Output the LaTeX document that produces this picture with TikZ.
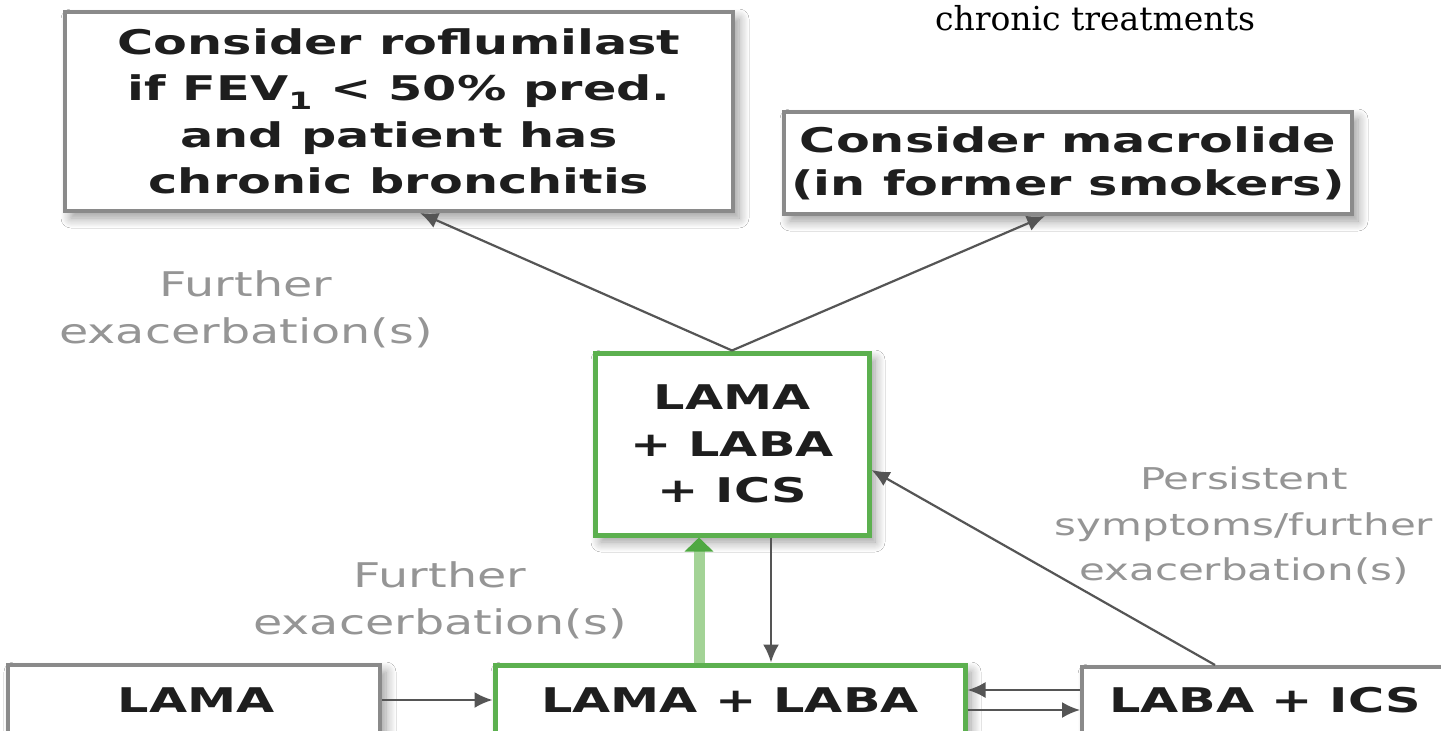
\documentclass[tikz,border=0pt]{standalone}
\usepackage{fontspec}
\usetikzlibrary{arrows.meta,shadows.blur,calc}
\newfontfamily\boxfont{DejaVu Sans Bold}[FakeStretch=1.45]
\newfontfamily\notefont{DejaVu Sans}[FakeStretch=1.4]
\newfontfamily\headfont{DejaVu Serif}
\definecolor{boxgray}{HTML}{8A8A8A}
\definecolor{boxgreen}{HTML}{5CB04F}
\definecolor{shaftgreen}{HTML}{A3D396}
\definecolor{headgreen}{HTML}{4FA842}
\definecolor{linkgray}{HTML}{555555}
\definecolor{notegray}{HTML}{959595}
\definecolor{inkdark}{HTML}{1E1E1E}
\tikzset{
  softshadow/.style={blur shadow={shadow xshift=6pt, shadow yshift=-7pt,
      shadow blur radius=10pt, shadow blur steps=10, shadow opacity=40}},
  graybox/.style={draw=boxgray, line width=4pt, fill=white, inner sep=0pt, softshadow},
  greenbox/.style={draw=boxgreen, line width=5pt, fill=white, inner sep=0pt, softshadow},
  boxtext/.style={font=\boxfont\fontsize{34}{46.5}\selectfont, text=inkdark, align=center},
  note/.style={font=\notefont\fontsize{34}{47}\selectfont, text=notegray, align=center},
  link/.style={draw=linkgray, line width=2.2pt, -{Latex[length=18pt,width=16pt]}},
  escalate/.style={draw=shaftgreen, line width=11pt,
      -{Triangle[length=14pt,width=28pt,color=headgreen,fill=headgreen]}},
}
\begin{document}
\begin{tikzpicture}[x=1pt,y=-1pt]
\useasboundingbox (0,0) rectangle (1441,731);
\fill[white] (0,0) rectangle (1441,731);
\begin{scope}
\clip (0,0) rectangle (1441,731);

% treatment boxes
\node[graybox, boxtext, minimum width=668pt, minimum height=199pt] (rofl) at (399,111.5)
  {Consider roflumilast\\if FEV\textsubscript{1} < 50\% pred.\\and patient has\\chronic bronchitis};
\node[graybox, boxtext, font=\boxfont\fontsize{34}{43}\selectfont,
      minimum width=568pt, minimum height=102pt] (macro) at (1068,163)
  {Consider macrolide\\(in former smokers)};
\node[greenbox, boxtext, minimum width=274pt, minimum height=182pt] (triple) at (732,444)
  {LAMA\\+ LABA\\+ ICS};
\node[graybox, minimum width=372pt, minimum height=120pt] (lama) at (194,725) {};
\node[greenbox, minimum width=470pt, minimum height=120pt] (dual) at (730,725) {};
\node[graybox, minimum width=438pt, minimum height=118pt] (labaics) at (1301,726) {};
\node[boxtext] (lamatxt) at (196,700) {LAMA};
\node[boxtext] (dualtxt) at (730,700) {LAMA + LABA};
\node[boxtext] (labaicstxt) at (1265,700) {LABA + ICS};

% connectors
\draw[link] (triple.north) -- ([xshift=21pt]rofl.south);
\draw[link] (triple.north) -- ([xshift=-23pt]macro.south);
\draw[link] ([xshift=-86pt]labaics.north) -- ([yshift=-26pt]triple.east);
\coordinate (up) at ([xshift=-31pt]dual.north);
\draw[escalate] (up) -- (up |- triple.south);
\coordinate (down) at ([xshift=39pt]triple.south);
\draw[link] (down) -- (down |- dual.north);
\coordinate (mono) at ([yshift=25pt]lama.east);
\draw[link] (mono) -- (mono -| dual.west);
\coordinate (back) at ([yshift=36pt]labaics.west);
\draw[link] (back) -- (back -| dual.east);
\coordinate (fwd) at ([yshift=16pt]labaics.west);
\draw[link] (fwd -| dual.east) -- (fwd);

% connector labels
\node[note] (further1) at (246,309) {Further\\exacerbation(s)};
\node[note] (further2) at (440,600) {Further\\exacerbation(s)};
\node[note, font=\notefont\fontsize{30}{45.5}\selectfont] (persist) at (1244,526)
  {Persistent\\symptoms/further\\exacerbation(s)};

% heading fragment
\node[font=\headfont\fontsize{33}{38}\selectfont, anchor=base, inner sep=0pt] (head)
  at (1095,30) {chronic treatments};
\end{scope}
\end{tikzpicture}
\end{document}
